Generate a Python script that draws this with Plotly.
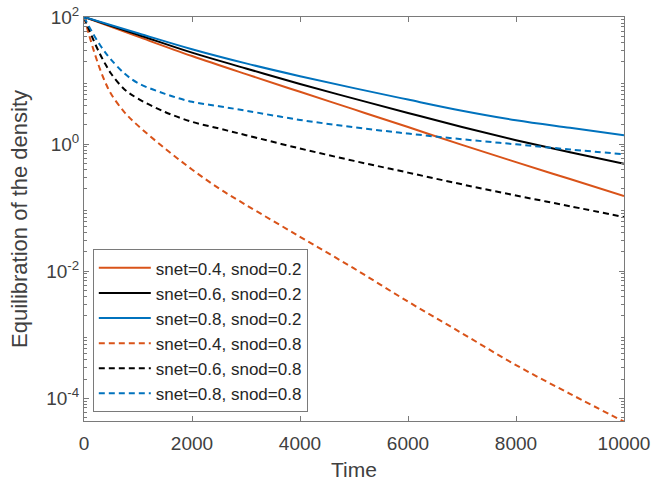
import plotly.graph_objects as go

# ---- data ----
t_solid = [0, 1000, 2000, 3000, 4000, 5000, 6000, 7000, 8000, 9000, 10000]
s04_02 = [100, 49.0, 24.3, 12.6, 6.64, 3.51, 1.85, 0.97, 0.519, 0.281, 0.152]
s06_02 = [100, 52.5, 27.5, 15.5, 8.81, 5.19, 3.09, 1.85, 1.15, 0.741, 0.490]
s08_02 = [100, 55.6, 31.1, 18.6, 11.7, 7.59, 5.01, 3.35, 2.37, 1.80, 1.38]

t_dash = [0, 100, 200, 300, 400, 500, 750, 1000, 1500, 2000, 2500, 3000,
          4000, 5000, 6000, 7000, 8000, 9000, 10000]
s04_08 = [100, 50.1, 26.3, 14.8, 9.12, 6.17, 3.16, 1.95, 0.851, 0.398, 0.200,
          0.110, 0.0347, 0.011, 0.00331, 0.00105, 0.000331, 0.000117, 0.0000427]
s06_08 = [100, 61.7, 38.9, 25.7, 17.8, 12.9, 7.24, 5.19, 3.20, 2.24, 1.76,
          1.38, 0.851, 0.543, 0.355, 0.232, 0.155, 0.105, 0.0710]
s08_08 = [100, 69.2, 49.0, 35.9, 27.2, 21.4, 12.9, 9.12, 6.17, 4.62, 3.94,
          3.35, 2.40, 1.84, 1.46, 1.19, 0.989, 0.822, 0.692]

names = ["snet=0.4, snod=0.2", "snet=0.6, snod=0.2", "snet=0.8, snod=0.2",
         "snet=0.4, snod=0.8", "snet=0.6, snod=0.8", "snet=0.8, snod=0.8"]

x_ticks = [0, 2000, 4000, 6000, 8000, 10000]
x_ticktext = ["0", "2000", "4000", "6000", "8000", "10000"]
y_ticks = [1e-4, 1e-2, 1, 100]
y_ticktext = ["10<sup>-4</sup>", "10<sup>-2</sup>", "10<sup>0</sup>", "10<sup>2</sup>"]
y_minor = [k * 10.0 ** e for e in range(-5, 2) for k in range(2, 10)]

ORANGE = "#D95319"
BLACK = "#000000"
BLUE = "#0072BD"
FONT = "Liberation Sans"
AXC = "#7a7a7a"
TXT = "#404040"

fig = go.Figure()
series = [
    (t_solid, s04_02, ORANGE, "solid"),
    (t_solid, s06_02, BLACK, "solid"),
    (t_solid, s08_02, BLUE, "solid"),
    (t_dash, s04_08, ORANGE, "6px,4px"),
    (t_dash, s06_08, BLACK, "6px,4px"),
    (t_dash, s08_08, BLUE, "6px,4px"),
]
for (tx, ty, c, d), n in zip(series, names):
    fig.add_trace(go.Scatter(x=tx, y=ty, mode="lines", name=n,
                             line=dict(color=c, width=2, dash=d, shape="spline", smoothing=1.0)))

fig.update_layout(
    width=651, height=483,
    margin=dict(l=84, r=27, t=17, b=62, autoexpand=False),
    paper_bgcolor="white", plot_bgcolor="white",
    font=dict(family=FONT, color=TXT, size=19),
    showlegend=True,
    legend=dict(x=0.0163, y=0.0215, xanchor="left", yanchor="bottom",
                bgcolor="white", bordercolor=AXC, borderwidth=1,
                font=dict(family=FONT, size=17, color="#262626"),
                itemwidth=52, entrywidth=250, entrywidthmode="pixels",
                tracegroupgap=0),
    xaxis=dict(range=[0, 10000], tickvals=x_ticks, ticktext=x_ticktext,
               ticks="inside", ticklen=5, automargin=False, ticklabelstandoff=5,
               tickcolor=AXC, showline=True, linecolor=AXC, linewidth=1,
               mirror="ticks", showgrid=False, zeroline=False,
               title=dict(text="Time", font=dict(size=21, color=TXT), standoff=9)),
    yaxis=dict(type="log", range=[-4.36, 2], tickvals=y_ticks, ticktext=y_ticktext,
               ticks="inside", ticklen=5, tickcolor=AXC, showline=True, linecolor=AXC,
               linewidth=1, mirror="ticks", showgrid=False, zeroline=False,
               automargin=False,
               minor=dict(tickmode="array", tickvals=y_minor, ticks="inside",
                          ticklen=3, tickcolor=AXC, showgrid=False),
               title=dict(text="Equilibration of the density",
                          font=dict(size=22, color=TXT), standoff=12)),
)

fig.write_html("out.html")
